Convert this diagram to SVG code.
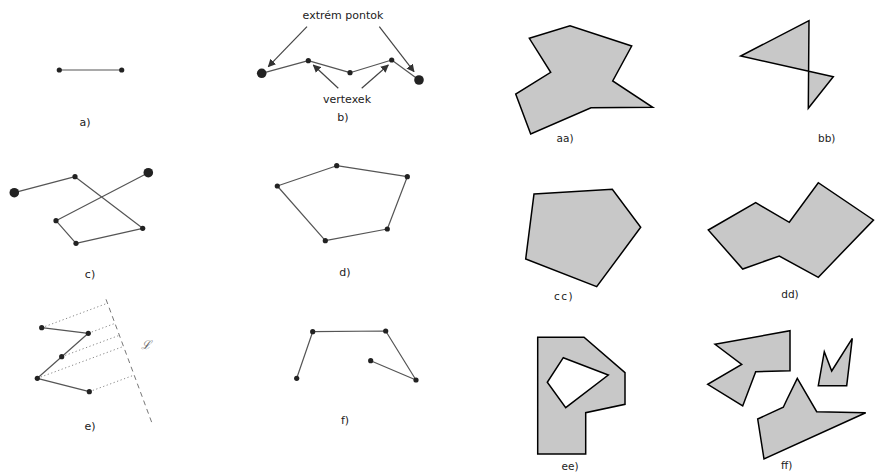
<svg xmlns="http://www.w3.org/2000/svg" width="875" height="473" viewBox="0 0 875 473">
<defs>
<style>
.ln{fill:none;stroke:#555;stroke-width:1.2;stroke-linejoin:round}
.dt{fill:#222}
.pg{fill:#c8c8c8;stroke:#000;stroke-width:1.5;stroke-linejoin:miter;fill-rule:evenodd}
.lb{font-family:"DejaVu Sans",sans-serif;font-size:11px;fill:#222;text-anchor:middle}
.rl{font-family:"DejaVu Sans",sans-serif;font-size:10.5px;fill:#222;text-anchor:middle}
.dot{fill:none;stroke:#888;stroke-width:1;stroke-dasharray:1.2 2.5}
.arr{fill:none;stroke:#444;stroke-width:1.2;marker-end:url(#ah)}
</style>
<marker id="ah" viewBox="0 0 10 10" refX="9" refY="5" markerWidth="8" markerHeight="8" markerUnits="userSpaceOnUse" orient="auto">
<path d="M0,0 L10,5 L0,10 z" fill="#333"/>
</marker>
</defs>
<rect width="875" height="473" fill="#fff"/>

<g id="fig-a">
<polyline class="ln" points="59.3,70 121.7,70"/>
<circle class="dt" cx="59.3" cy="70" r="2.6"/>
<circle class="dt" cx="121.7" cy="70" r="2.6"/>
<text class="lb" x="85" y="126">a)</text>
</g>

<g id="fig-b">
<polyline class="ln" points="261.7,73.3 308.3,60.7 350,72.7 391.7,60 419,80"/>
<circle class="dt" cx="261.7" cy="73.3" r="4.8"/>
<circle class="dt" cx="308.3" cy="60.7" r="2.6"/>
<circle class="dt" cx="350" cy="72.7" r="2.6"/>
<circle class="dt" cx="391.7" cy="60" r="2.6"/>
<circle class="dt" cx="419" cy="80" r="4.8"/>
<text class="lb" x="343" y="19">extrém pontok</text>
<text class="lb" x="347" y="103">vertexek</text>
<text class="lb" x="343" y="121">b)</text>
</g>

<g id="connectors">
<line class="arr" x1="307" y1="26.7" x2="268.3" y2="66.7"/>
<line class="arr" x1="379.3" y1="26.7" x2="414" y2="71.7"/>
<line class="arr" x1="338.3" y1="88.3" x2="313.3" y2="65"/>
<line class="arr" x1="361.7" y1="88.3" x2="388.3" y2="65"/>
</g>

<g id="fig-c">
<polyline class="ln" points="14.3,192.7 75,176.7 142.7,228.3 76,243.3 56,220.7 148.3,172.7"/>
<circle class="dt" cx="14.3" cy="192.7" r="4.8"/>
<circle class="dt" cx="75" cy="176.7" r="2.6"/>
<circle class="dt" cx="142.7" cy="228.3" r="2.6"/>
<circle class="dt" cx="76" cy="243.3" r="2.6"/>
<circle class="dt" cx="56" cy="220.7" r="2.6"/>
<circle class="dt" cx="148.3" cy="172.7" r="4.8"/>
<text class="lb" x="90" y="278">c)</text>
</g>

<g id="fig-d">
<polygon class="ln" points="277.3,186 336.7,165.7 407.3,176.7 387.3,229 325.3,240.7"/>
<circle class="dt" cx="277.3" cy="186" r="2.6"/>
<circle class="dt" cx="336.7" cy="165.7" r="2.6"/>
<circle class="dt" cx="407.3" cy="176.7" r="2.6"/>
<circle class="dt" cx="387.3" cy="229" r="2.6"/>
<circle class="dt" cx="325.3" cy="240.7" r="2.6"/>
<text class="lb" x="345" y="275.5">d)</text>
</g>

<g id="fig-e">
<line x1="106" y1="299.3" x2="152.7" y2="425" fill="none" stroke="#777" stroke-width="1" stroke-dasharray="5 4"/>
<line class="dot" x1="41.7" y1="327.7" x2="107.5" y2="303.2"/>
<line class="dot" x1="88.3" y1="333.3" x2="114.9" y2="323.4"/>
<line class="dot" x1="61.7" y1="356.7" x2="119.4" y2="335.3"/>
<line class="dot" x1="37.3" y1="378.3" x2="123.5" y2="346.4"/>
<line class="dot" x1="89.3" y1="391.7" x2="134.1" y2="375.1"/>
<polyline class="ln" points="41.7,327.7 88.3,333.3 61.7,356.7 37.3,378.3 89.3,391.7"/>
<circle class="dt" cx="41.7" cy="327.7" r="2.6"/>
<circle class="dt" cx="88.3" cy="333.3" r="2.6"/>
<circle class="dt" cx="61.7" cy="356.7" r="2.6"/>
<circle class="dt" cx="37.3" cy="378.3" r="2.6"/>
<circle class="dt" cx="89.3" cy="391.7" r="2.6"/>
<text x="146" y="349" font-family="DejaVu Serif,serif" font-style="italic" font-size="12" fill="#666" text-anchor="middle">ℒ</text>
<text class="lb" x="90" y="430">e)</text>
</g>

<g id="fig-f">
<polyline class="ln" points="296.7,378.3 312.7,331.7 385.7,331 416,380 370.7,360.7"/>
<circle class="dt" cx="296.7" cy="378.3" r="2.6"/>
<circle class="dt" cx="312.7" cy="331.7" r="2.6"/>
<circle class="dt" cx="385.7" cy="331" r="2.6"/>
<circle class="dt" cx="416" cy="380" r="2.6"/>
<circle class="dt" cx="370.7" cy="360.7" r="2.6"/>
<text class="lb" x="345" y="424">f)</text>
</g>

<g id="fig-aa">
<polygon class="pg" points="529.3,38.3 570,25.7 631.7,46 612.7,81 652.7,107.3 591,107.7 530.7,134 515.7,94 550.7,72.3"/>
<text class="rl" x="565" y="141.5">aa)</text>
</g>

<g id="fig-bb">
<polygon class="pg" style="fill-rule:nonzero" points="809,20.7 740.7,56 833.3,76.7 808.3,108.3"/>
<text class="rl" x="826.7" y="141.5">bb)</text>
</g>

<g id="fig-cc">
<polygon class="pg" points="534,194 612.3,189.3 640.7,227.3 596.7,286.7 525.7,259"/>
<text class="rl" x="564" y="299.5" letter-spacing="1.5">cc)</text>
</g>

<g id="fig-dd">
<polygon class="pg" points="708.3,230 755.7,202.7 789.3,222.3 818.3,182.7 873.5,220 833.3,261.7 818.3,277.3 779.3,256 742.7,269"/>
<text class="rl" x="790" y="297.5">dd)</text>
</g>

<g id="fig-ee">
<path class="pg" d="M537.7,337.3 L584,337.3 L625,372.7 L625,404.3 L585.7,412.7 L585.7,454 L537.7,454 Z M563.3,357.7 L608.3,375 L565.7,407.7 L547.3,382.3 Z"/>
<text class="rl" x="570" y="469.5">ee)</text>
</g>

<g id="fig-ff">
<polygon class="pg" points="715,344.3 790,330.7 790,370.7 755.7,371.7 742.7,406 707.7,384.3 741.7,364.3"/>
<polygon class="pg" points="824.3,351.7 831.7,371 852.3,338.3 846.7,385.7 818.3,385.7"/>
<polygon class="pg" points="797.3,378.3 816.7,411.7 865.7,412.7 764,459 757.7,419 783.3,407.3 786.7,400"/>
<text class="rl" x="786.7" y="468.5">ff)</text>
</g>
</svg>
